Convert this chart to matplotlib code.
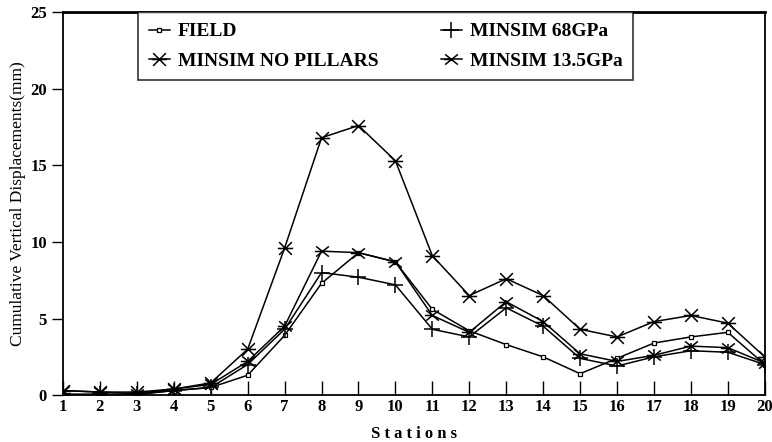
import matplotlib.pyplot as plt
from matplotlib.path import Path

stations = list(range(1, 21))

field = [0.05, 0.05, 0.05, 0.3, 0.5, 1.3, 3.9, 7.3, 9.3, 8.7,
         5.6, 4.2, 3.3, 2.5, 1.4, 2.4, 3.4, 3.8, 4.1, 2.0]
no_pillars = [0.3, 0.2, 0.2, 0.4, 0.8, 3.0, 9.6, 16.8, 17.6, 15.3,
              9.1, 6.5, 7.6, 6.5, 4.3, 3.8, 4.8, 5.2, 4.7, 2.5]
gpa68 = [0.05, 0.05, 0.05, 0.3, 0.5, 2.0, 4.3, 8.0, 7.7, 7.2,
         4.3, 3.8, 5.7, 4.5, 2.4, 1.9, 2.5, 2.9, 2.8, 2.0]
gpa135 = [0.3, 0.2, 0.1, 0.4, 0.7, 2.2, 4.5, 9.4, 9.3, 8.7,
          5.2, 4.1, 6.1, 4.8, 2.7, 2.2, 2.6, 3.2, 3.1, 2.1]

# six point asterisk: x plus horizontal bar
star6 = Path([(-1, -1), (1, 1), (-1, 1), (1, -1), (-1.2, 0), (1.2, 0)],
             [Path.MOVETO, Path.LINETO] * 3)
# x with a short left spur
xspur = Path([(-1, -0.8), (1, 0.8), (-1, 0.8), (1, -0.8), (-1.2, 0), (0, 0)],
             [Path.MOVETO, Path.LINETO] * 3)

plt.rcParams['font.family'] = ['Liberation Serif', 'DejaVu Serif']

fig = plt.figure(figsize=(7.72, 4.42), dpi=100)
ax = fig.add_axes([0.0816, 0.106, 0.909, 0.8665])

ax.plot(stations, field, color='black', lw=1.1, marker='s', ms=3.2,
        mfc='white', mec='black', mew=0.9, label='FIELD')
ax.plot(stations, no_pillars, color='black', lw=1.1, marker=star6, ms=11,
        mew=1.1, label='MINSIM NO PILLARS')
ax.plot(stations, gpa68, color='black', lw=1.1, marker='+', ms=12,
        mew=1.1, label='MINSIM 68GPa')
ax.plot(stations, gpa135, color='black', lw=1.1, marker=xspur, ms=11,
        mew=1.1, label='MINSIM 13.5GPa')

ax.set_xlim(1, 20)
ax.set_ylim(0, 25)
ax.set_xticks(stations)
ax.set_yticks([0, 5, 10, 15, 20, 25])
ax.tick_params(axis='x', direction='in', length=10, width=1, labelsize=12, pad=3)
ax.tick_params(axis='y', direction='out', length=8, width=1, labelsize=12)
for lab in ax.get_xticklabels() + ax.get_yticklabels():
    lab.set_fontweight('bold')

ax.spines['top'].set_linewidth(2)
ax.spines['left'].set_linewidth(1.3)
ax.spines['bottom'].set_linewidth(1.3)
ax.spines['right'].set_linewidth(1.3)

ax.set_xlabel('S t a t i o n s', fontsize=12, fontweight='bold', labelpad=8)
ax.set_ylabel('Cumulative Vertical Displacements(mm)', fontsize=12.5, labelpad=3)

leg = ax.legend(ncol=2, loc='upper left', bbox_to_anchor=(0.107, 1.0),
                borderaxespad=0, frameon=True, fancybox=False, edgecolor='black',
                handlelength=1.1, handletextpad=0.4, columnspacing=3.2,
                borderpad=0.55, labelspacing=0.6, prop={'weight': 'bold', 'size': 14})
leg.get_frame().set_linewidth(1.2)

fig.savefig('out.png', dpi=100)
